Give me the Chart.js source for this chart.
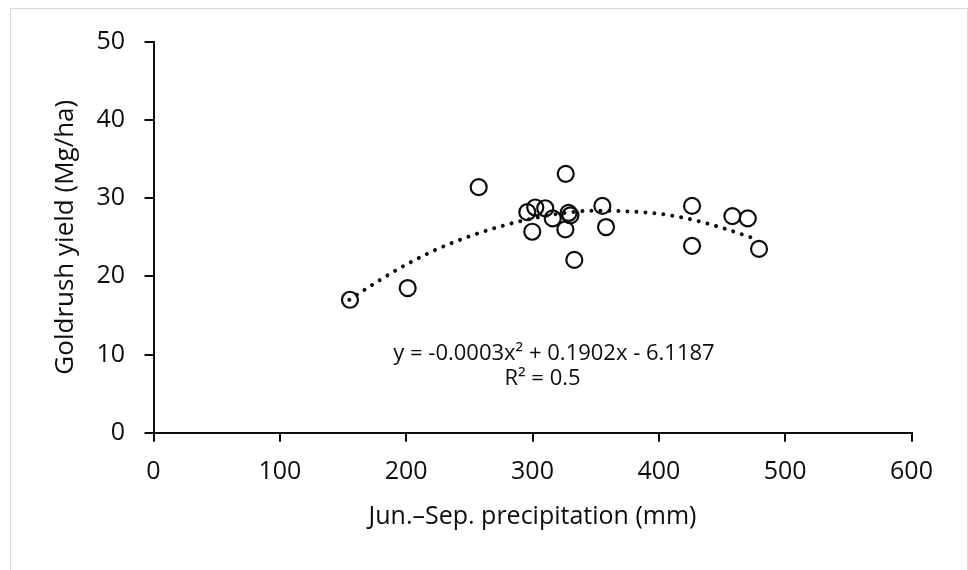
<!DOCTYPE html>
<html>
<head>
<meta charset="utf-8">
<script src="https://cdn.jsdelivr.net/npm/chart.js@4.4.1/dist/chart.umd.min.js"></script>
<style>
  html, body { margin: 0; padding: 0; background: #fff; }
  #wrap { position: relative; width: 968px; height: 570px; overflow: hidden; }
  #frame { position: absolute; left: 10px; top: 8px; width: 956px; height: 600px; border: 1px solid #d9d9d9; }
  canvas { position: absolute; left: 0; top: 0; }
</style>
</head>
<body>
<div id="wrap">
  <div id="frame"></div>
  <canvas id="chart" width="968" height="570"></canvas>
</div>
<script>
// Goldrush yield vs. Jun.–Sep. precipitation, with quadratic trendline

// observed points
const precip = [155.5, 201.2, 257.4, 295.9, 302.2, 310.1, 316.0, 299.8, 326.3, 326.0,
                328.5, 330.0, 333.1, 355.3, 358.2, 426.3, 426.3, 458.2, 470.4, 479.3];
const yieldMg = [17.0, 18.5, 31.4, 28.2, 28.8, 28.7, 27.4, 25.7, 33.1, 26.0,
                 28.1, 27.8, 22.1, 29.0, 26.3, 29.0, 23.9, 27.7, 27.4, 23.5];

// trendline
const trendX = [155, 180, 200, 225, 250, 275, 300, 325, 350, 375, 400, 425, 450, 476];
const trendY = [17.0, 19.6, 21.5, 23.5, 25.1, 26.4, 27.4, 28.1, 28.4, 28.3, 28.0, 27.3, 26.2, 24.8];

const xTicks = [0, 100, 200, 300, 400, 500, 600];
const yTicks = [0, 10, 20, 30, 40, 50];

const eqLines = ['y = -0.0003x\u00B2 + 0.1902x - 6.1187', 'R\u00B2 = 0.5'];
// label anchors in data units (centre x, baseline y)
const eqAnchorX = [317.0, 307.9];
const eqAnchorY = [9.3, 6.1];

const FONT = "'Open Sans', sans-serif";
const INK = '#0d0d0d';

const scatterPts = precip.map((x, i) => ({ x: x, y: yieldMg[i] }));
const trendPts = trendX.map((x, i) => ({ x: x, y: trendY[i] }));

const equationLabel = {
  id: 'equationLabel',
  afterDatasetsDraw(chart) {
    const c = chart.ctx;
    const xs = chart.scales.x, ys = chart.scales.y;
    c.save();
    c.font = '22px ' + FONT;
    c.fillStyle = INK;
    c.textAlign = 'center';
    c.textBaseline = 'alphabetic';
    eqLines.forEach((t, i) => {
      c.fillText(t, xs.getPixelForValue(eqAnchorX[i]), ys.getPixelForValue(eqAnchorY[i]));
    });
    c.restore();
  }
};

new Chart(document.getElementById('chart'), {
  type: 'scatter',
  data: {
    datasets: [
      {
        label: 'Trend',
        type: 'line',
        data: trendPts,
        borderColor: INK,
        borderWidth: 4,
        borderDash: [0.01, 9],
        borderCapStyle: 'round',
        cubicInterpolationMode: 'monotone',
        pointRadius: 0,
        fill: false,
        order: 2
      },
      {
        label: 'Yield',
        data: scatterPts,
        pointRadius: 8,
        pointBorderWidth: 2.2,
        pointBorderColor: INK,
        pointBackgroundColor: 'rgba(0,0,0,0)',
        order: 1
      }
    ]
  },
  options: {
    responsive: false,
    animation: false,
    layout: { padding: { left: 0, right: 56.5, top: 41.7, bottom: 0 } },
    plugins: { legend: { display: false }, tooltip: { enabled: false } },
    scales: {
      x: {
        type: 'linear',
        min: 0, max: 600,
        afterBuildTicks: s => { s.ticks = xTicks.map(v => ({ value: v })); },
        afterFit: s => { s.height = 570 - 432.7; },
        border: { color: INK, width: 2 },
        grid: { drawOnChartArea: false, drawTicks: true, tickLength: 9, color: INK, lineWidth: 2 },
        ticks: { font: { family: FONT, size: 25 }, color: INK, padding: 15.6, maxRotation: 0 },
        title: {
          display: true, text: 'Jun.\u2013Sep. precipitation (mm)',
          font: { family: FONT, size: 25 }, color: INK,
          padding: { top: 0, bottom: 37.7 }
        }
      },
      y: {
        type: 'linear',
        min: 0, max: 50,
        afterBuildTicks: s => { s.ticks = yTicks.map(v => ({ value: v })); },
        afterFit: s => { s.width = 153.5; },
        border: { color: INK, width: 2 },
        grid: { drawOnChartArea: false, drawTicks: true, tickLength: 9, color: INK, lineWidth: 2 },
        ticks: { font: { family: FONT, size: 25 }, color: INK, padding: 19.5 },
        title: {
          display: true, text: 'Goldrush yield (Mg/ha)',
          font: { family: FONT, size: 26 }, color: INK,
          padding: { top: 50.1, bottom: 0 }
        }
      }
    }
  },
  plugins: [equationLabel]
});
</script>
</body>
</html>
